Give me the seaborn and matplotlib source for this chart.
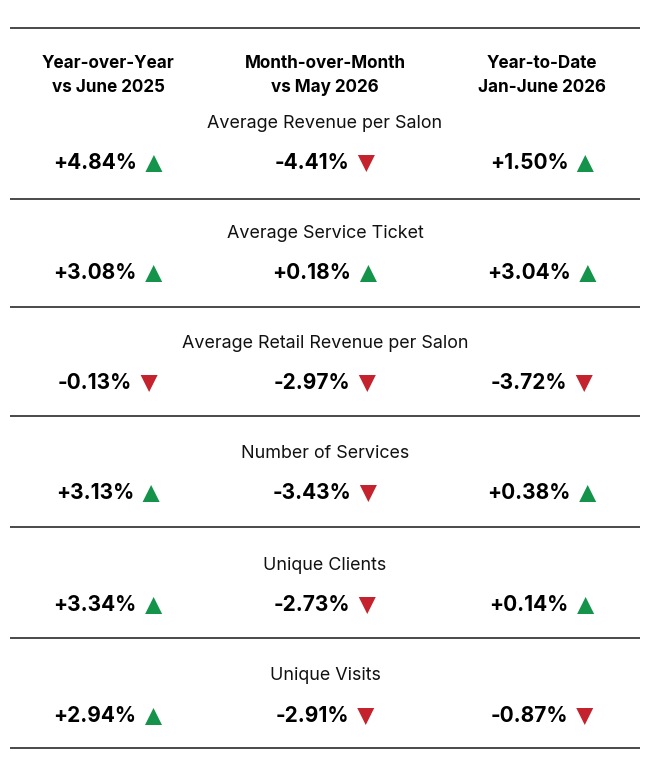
import matplotlib
matplotlib.use("Agg")
import matplotlib.pyplot as plt
import seaborn as sns
import pandas as pd

sns.set_theme(style="white")
plt.rcParams['font.family'] = ['Inter', 'DejaVu Sans']

column_headers = ["Year-over-Year\nvs June 2025",
                  "Month-over-Month\nvs May 2026",
                  "Year-to-Date\nJan-June 2026"]
metrics = ["Average Revenue per Salon", "Average Service Ticket",
           "Average Retail Revenue per Salon", "Number of Services",
           "Unique Clients", "Unique Visits"]
yoy = [4.84, 3.08, -0.13, 3.13, 3.34, 2.94]
mom = [-4.41, 0.18, -2.97, -3.43, -2.73, -2.91]
ytd = [1.50, 3.04, -3.72, 0.38, 0.14, -0.87]

GREEN = "#14934a"
RED = "#c4222d"
LINE = "#3a3a3a"

W, H = 650, 776
fig = plt.figure(figsize=(W / 100, H / 100), dpi=100)
ax = fig.add_axes([0, 0, 1, 1])
ax.set_xlim(0, W)
ax.set_ylim(H, 0)
ax.axis("off")

col_x = [108, 325, 542]
row_title_y = [124, 234, 344, 453, 565, 676]
row_val_y = [163, 273, 383, 493, 605, 716]
sep_y = [28, 199, 307, 416, 527, 638, 748]

for y in sep_y:
    ax.plot([10, 640], [y, y], color=LINE, lw=1.3, solid_capstyle="butt")

for x, h in zip(col_x, column_headers):
    l1, l2 = h.split("\n")
    ax.text(x, 64, l1, ha="center", va="center", fontsize=12.3,
            fontweight="bold", color="black")
    ax.text(x, 88, l2, ha="center", va="center", fontsize=12.3,
            fontweight="bold", color="black")

for t, y in zip(metrics, row_title_y):
    ax.text(325, y, t, ha="center", va="center", fontsize=12.9,
            color="#111111")

records = []
for ci, series in enumerate([yoy, mom, ytd]):
    for ri, v in enumerate(series):
        records.append(dict(col=ci, row=ri, value=v,
                            label=f"{v:+.2f}%",
                            up=v >= 0))
df = pd.DataFrame(records)

fig.canvas.draw()
renderer = fig.canvas.get_renderer()
tri_x, tri_y, tri_m = [], [], []
gap = 17  # distance from text end to triangle centre
for _, r in df.iterrows():
    cx = col_x[r["col"]]
    cy = row_val_y[r["row"]]
    txt = ax.text(0, cy, r["label"], ha="left", va="center", fontsize=15.0,
                  fontweight="bold", color="black")
    bb = txt.get_window_extent(renderer)
    w = bb.width
    total = w + gap + 9
    x0 = cx - total / 2
    txt.set_x(x0)
    tri_x.append(x0 + w + gap)
    tri_y.append(cy + 0.5)
    tri_m.append("up" if r["up"] else "down")

df["tx"] = tri_x
df["ty"] = tri_y
df["dir"] = tri_m

sns.scatterplot(data=df, x="tx", y="ty", hue="dir", style="dir",
                markers={"up": "^", "down": "v"},
                palette={"up": GREEN, "down": RED},
                s=150, linewidth=0, ax=ax, legend=False)
ax.set_xlim(0, W)
ax.set_ylim(H, 0)
ax.axis("off")

fig.savefig("out.png", dpi=100, facecolor="white")
